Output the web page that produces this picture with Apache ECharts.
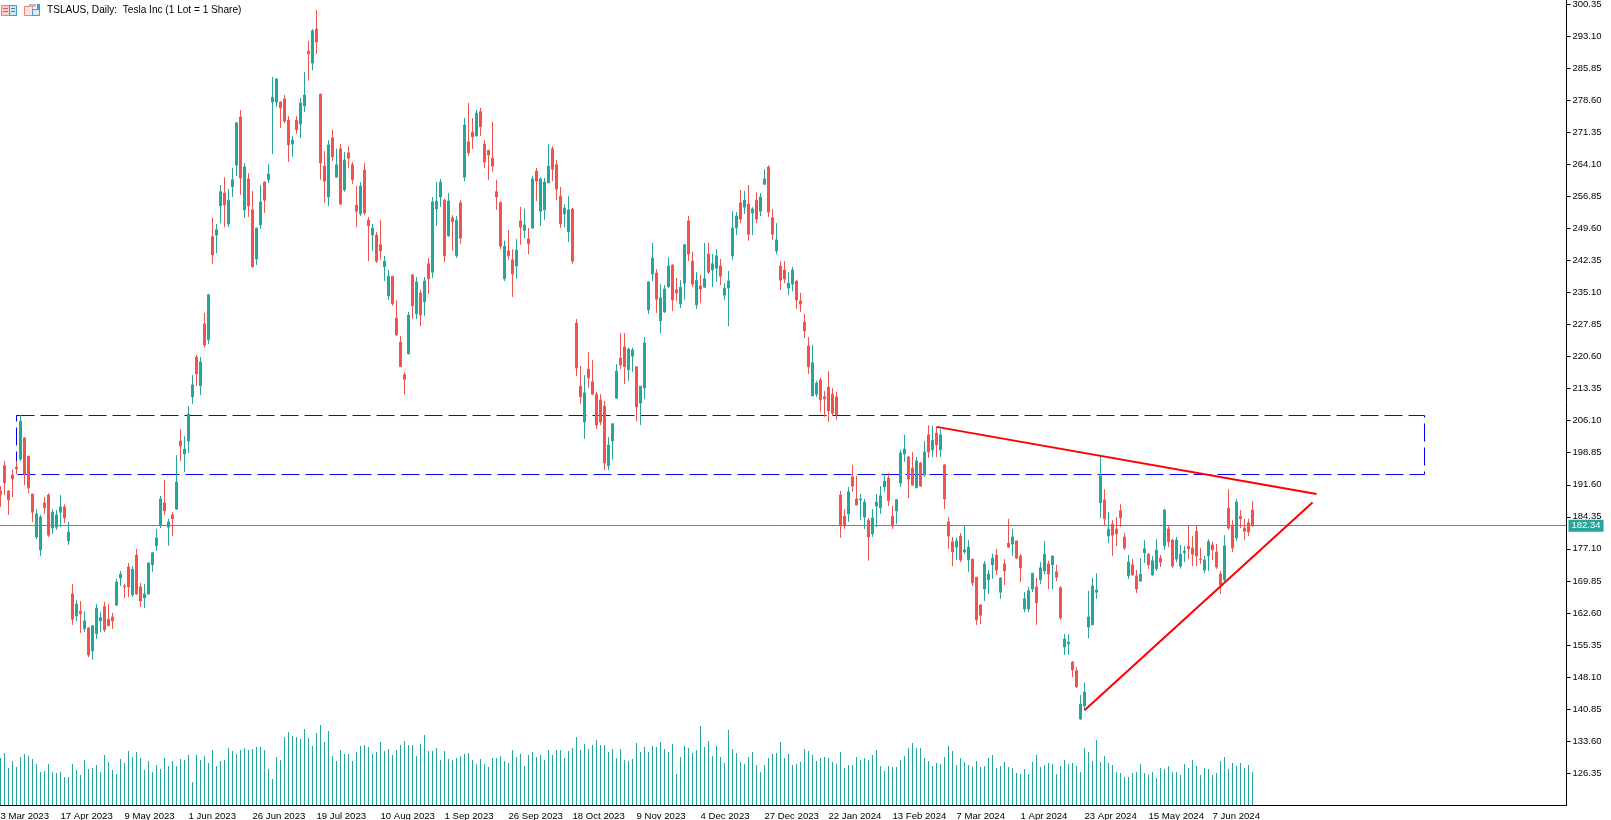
<!DOCTYPE html>
<html><head><meta charset="utf-8">
<style>html,body{margin:0;padding:0;background:#fff}#c{width:1611px;height:820px}</style>
<script src="https://cdn.jsdelivr.net/npm/echarts@6/dist/echarts.min.js"></script>
</head><body><div id="c"></div>
<script>
const opens=[
190.2,195.9,190.2,193.8,195.6,197.4,202.2,198.1,189.5,179.8,
176.9,187.5,189.3,181.8,182.0,185.4,186.6,178.9,166.9,161.9,
163.0,159.0,159.2,154.0,157.9,160.8,164.0,161.2,161.7,164.4,
170.5,168.7,173.0,166.7,175.7,168.5,166.0,166.9,173.5,177.8,
182.3,187.5,182.0,184.8,186.1,201.5,198.6,201.5,211.5,220.5,
214.0,228.0,224.4,247.7,248.1,254.7,257.6,250.6,259.0,263.9,
274.8,253.8,260.8,253.8,242.7,250.4,260.1,260.6,278.2,278.2,
278.2,278.9,274.1,268.7,274.1,273.2,277.3,289.7,287.0,294.7,
280.0,263.7,256.7,270.1,261.2,267.6,258.3,266.7,264.0,254.9,
252.9,262.8,251.5,248.1,248.1,245.9,240.9,234.3,238.8,229.3,
223.9,216.5,221.2,239.1,230.3,235.0,233.0,241.6,239.7,254.0,
256.7,256.0,247.9,252.0,243.4,255.4,261.2,269.2,271.4,270.5,
276.0,268.7,267.3,265.5,257.9,255.4,238.2,244.5,242.5,241.1,
251.3,249.2,247.2,249.7,262.6,253.5,253.8,259.9,267.6,264.0,
256.9,252.9,248.8,254.0,228.2,213.9,205.8,217.8,214.9,212.1,
210.8,209.4,195.9,201.5,211.2,220.3,222.8,217.6,220.7,218.3,
210.1,213.5,231.2,239.3,239.5,228.7,230.7,236.4,241.3,235.7,
232.5,237.2,251.3,242.2,232.3,236.6,236.3,243.8,240.2,240.6,
241.1,234.5,236.1,243.4,249.7,255.4,254.4,255.1,253.1,256.0,
253.5,259.6,263.5,252.0,244.5,241.1,240.2,236.1,237.0,237.7,
233.2,228.4,223.0,211.7,212.1,215.3,211.5,213.7,212.1,211.5,
189.3,184.5,185.0,193.4,188.4,188.2,184.3,183.6,180.5,186.8,
186.4,191.1,193.1,184.5,185.7,192.0,198.6,197.9,195.4,190.9,
196.5,193.8,202.9,199.5,203.3,199.5,196.1,183.2,178.7,177.5,
180.0,176.4,174.6,174.8,170.7,164.4,168.0,170.1,173.5,175.7,
167.3,173.7,178.4,178.2,178.9,175.5,163.5,163.5,168.0,168.5,
170.1,172.1,173.7,173.5,171.9,168.3,154.9,155.6,151.5,149.5,
138.6,141.6,159.4,159.9,167.3,187.5,188.2,180.0,182.7,181.6,
185.7,179.8,171.0,173.5,171.0,169.8,176.2,175.9,171.2,172.6,
175.0,177.8,181.6,179.1,174.8,173.2,176.2,177.7,177.3,181.1,
174.8,172.3,175.5,178.0,176.4,171.4,170.1,186.3,182.5,179.6,
184.5,181.8,183.0,185.9];
const closes=[
189.3,192.0,188.2,192.9,195.2,206.0,194.0,190.9,185.4,185.0,
184.3,186.4,180.2,185.4,184.8,186.6,184.1,180.9,161.2,164.6,
162.4,160.8,153.1,159.7,163.7,161.5,158.8,159.7,160.8,169.6,
171.4,168.5,168.5,172.5,166.9,165.3,166.9,173.9,176.2,179.6,
188.4,185.7,183.2,183.9,192.2,200.4,199.7,207.6,214.2,216.7,
219.4,223.2,234.6,243.6,249.3,257.9,254.9,256.0,260.6,273.5,
261.0,263.5,254.7,240.9,249.7,255.6,256.0,261.9,279.3,283.4,
276.9,273.9,268.5,269.6,271.9,278.0,279.8,289.1,294.3,291.8,
264.4,260.3,268.5,265.8,264.0,255.1,265.1,265.5,260.6,253.5,
259.2,253.1,250.2,249.7,242.2,244.5,242.2,238.8,232.5,225.5,
218.3,215.5,230.0,232.1,237.5,230.0,237.7,238.2,255.6,255.8,
260.1,243.4,255.8,251.1,251.5,247.4,273.0,266.7,270.3,275.7,
272.6,264.6,266.2,263.7,256.7,245.6,245.6,243.4,239.3,244.7,
249.9,250.4,246.1,260.8,260.3,260.8,260.1,263.7,263.0,258.5,
250.6,254.2,253.8,242.2,218.0,211.5,212.4,215.8,212.1,205.1,
205.8,196.5,200.6,205.4,217.3,218.7,218.3,222.3,222.1,209.2,
213.9,223.7,237.5,242.9,233.6,233.9,235.9,241.1,233.4,235.0,
236.3,245.9,243.8,237.0,237.9,235.9,238.2,239.7,241.6,243.4,
238.8,236.1,237.7,249.7,252.4,251.7,256.0,248.3,254.0,251.7,
256.7,260.8,253.3,248.3,247.0,237.9,238.2,237.2,240.2,233.4,
232.5,226.4,218.3,219.2,214.6,210.8,211.0,208.3,207.8,207.4,
182.3,182.3,190.0,191.3,187.0,188.4,187.7,179.8,184.1,187.7,
189.1,192.4,188.0,182.3,188.2,198.8,199.7,192.9,191.5,197.0,
191.3,199.0,199.0,201.7,200.6,202.9,188.4,180.0,176.4,178.9,
174.6,176.9,177.5,169.4,161.0,162.1,173.7,171.4,175.0,172.3,
170.5,172.1,177.5,179.8,175.0,172.8,165.8,167.6,171.6,164.9,
172.8,175.9,171.4,175.5,170.7,161.5,156.7,156.0,149.7,145.9,
142.0,144.7,161.7,168.7,167.8,193.6,183.9,181.6,180.2,180.5,
184.1,177.3,174.1,171.2,168.0,171.4,177.1,173.5,174.4,176.8,
174.1,185.9,178.7,173.2,179.1,175.9,176.6,177.1,175.9,175.5,
174.7,174.6,178.7,176.9,173.0,168.9,177.8,181.8,177.3,187.7,
183.9,181.1,180.9,182.34];
const lows=[
186.6,189.3,184.8,188.8,194.0,197.0,191.5,189.7,183.2,179.3,
175.5,185.0,179.8,180.5,181.4,182.0,183.0,178.0,159.9,160.8,
158.1,158.3,152.6,152.0,156.7,158.3,158.3,159.7,159.0,164.2,
168.7,166.0,166.2,166.2,166.7,164.0,163.7,166.7,171.9,176.6,
181.8,184.8,177.8,180.0,185.9,197.0,194.5,198.8,209.9,214.0,
211.9,222.6,223.5,241.6,244.0,250.8,249.9,249.9,256.7,261.5,
257.2,252.0,252.2,240.7,241.3,249.5,253.1,259.9,266.4,277.1,
272.3,273.4,264.6,265.8,271.0,270.1,275.9,283.0,285.4,289.1,
260.6,255.4,254.7,264.9,261.2,254.9,257.9,263.3,259.7,249.9,
252.4,252.6,242.2,244.5,241.8,242.5,237.7,233.4,232.1,225.3,
218.3,212.0,221.2,229.1,229.1,227.5,229.8,234.8,238.4,250.2,
254.5,242.0,247.7,244.5,242.9,246.1,260.3,266.0,267.6,270.5,
270.5,263.3,260.6,262.4,253.8,244.9,237.7,242.5,234.1,238.2,
245.9,247.4,243.8,249.5,255.8,250.2,251.5,259.9,260.3,256.0,
249.7,249.9,246.5,241.6,216.2,209.9,202.0,213.5,211.9,204.2,
205.1,194.9,194.9,197.2,211.0,217.8,214.4,215.1,217.1,206.0,
205.1,211.0,230.2,237.7,230.5,225.9,230.5,236.1,230.9,233.2,
231.6,233.4,242.2,236.3,231.4,232.7,236.1,239.3,236.3,237.5,
236.8,233.4,227.5,242.5,248.1,250.8,252.9,246.8,248.1,250.8,
252.4,259.4,252.2,247.0,243.8,235.7,237.2,234.5,235.4,231.4,
230.7,224.8,216.7,211.7,211.5,208.1,207.0,205.8,207.4,206.3,
179.6,181.6,183.2,190.0,187.0,183.6,181.6,174.4,179.8,182.0,
185.0,190.0,186.8,181.6,182.7,191.1,196.8,188.6,191.5,190.9,
191.1,193.4,197.7,197.9,197.9,197.9,186.1,177.1,173.2,174.6,
174.1,176.0,171.9,168.7,159.9,160.1,165.3,166.9,170.3,171.2,
165.8,168.9,177.3,175.5,174.8,169.6,162.8,162.8,167.3,159.9,
169.2,171.4,168.0,168.0,169.8,161.0,153.1,153.1,148.1,145.6,
138.4,140.6,156.9,159.9,165.8,184.1,182.3,178.4,175.5,177.7,
182.1,176.8,170.3,171.0,167.1,169.8,173.9,172.6,171.0,172.1,
173.0,176.9,177.5,172.8,174.1,172.6,174.1,174.8,173.2,173.2,
173.7,171.6,172.1,174.6,172.6,166.9,169.8,181.4,176.4,178.9,
181.8,179.1,180.0,182.1];
const highs=[
191.3,197.0,190.4,195.0,197.0,207.4,202.4,198.1,189.5,186.1,
184.8,188.8,189.7,186.1,185.9,189.3,187.2,183.2,169.2,165.5,
165.3,163.0,159.4,159.9,164.6,162.8,165.1,164.6,162.6,170.3,
172.1,169.2,173.9,173.2,177.1,169.4,169.2,174.1,176.4,181.6,
189.1,192.7,183.9,185.4,198.3,204.2,202.6,209.4,216.4,221.0,
220.5,230.5,234.6,252.0,250.6,259.4,261.2,258.5,263.3,273.7,
276.4,264.4,262.1,258.1,249.7,259.4,260.3,264.2,283.9,283.6,
278.4,279.8,275.0,270.5,275.0,279.1,285.0,292.0,294.7,299.0,
280.0,267.1,269.6,271.9,267.6,268.7,266.9,268.2,264.6,259.2,
260.1,264.4,252.2,250.6,248.8,251.5,243.4,240.2,238.8,233.4,
225.3,217.1,230.7,239.1,238.6,235.7,238.6,242.9,256.7,260.1,
260.8,256.3,257.6,252.6,252.4,256.0,274.6,278.0,274.6,276.4,
276.9,269.6,267.3,273.7,260.6,255.8,246.8,249.2,244.9,247.2,
254.5,254.0,249.7,261.5,263.3,261.2,261.0,268.7,268.2,265.1,
259.0,255.1,256.9,254.2,229.1,218.5,216.4,221.6,219.8,212.6,
212.1,210.6,202.4,205.4,218.9,225.9,225.9,222.6,222.6,218.3,
213.9,225.0,237.7,246.3,240.4,237.0,236.8,243.1,241.5,238.4,
237.9,246.1,252.4,244.3,239.7,239.1,246.3,246.3,243.8,244.9,
242.7,237.2,240.0,253.5,253.3,258.3,258.1,259.4,254.4,257.8,
257.6,263.0,263.9,254.0,250.8,242.2,242.2,239.7,240.9,237.9,
235.0,230.2,225.0,223.2,215.1,215.8,212.8,217.3,213.5,212.6,
190.2,186.1,191.1,196.1,193.6,189.5,188.4,184.1,186.1,189.5,
191.3,194.0,194.3,186.8,188.4,199.5,202.9,198.1,199.0,197.9,
196.8,201.5,205.1,204.9,204.7,204.2,196.3,184.3,179.8,179.6,
180.7,182.3,179.1,174.8,170.7,164.6,174.4,172.3,176.0,177.1,
170.7,174.8,183.9,181.6,178.9,176.0,167.3,168.5,171.6,170.5,
174.1,178.9,174.4,175.5,173.5,168.7,157.8,157.8,151.7,150.4,
144.0,146.8,167.6,170.5,171.6,198.3,190.6,185.4,183.6,184.3,
187.2,180.7,175.7,174.8,172.3,175.0,179.1,176.2,175.5,179.3,
175.7,186.1,182.5,179.3,179.8,178.0,177.7,182.3,180.0,182.3,
177.3,175.5,179.3,178.7,178.2,172.1,180.2,190.6,183.6,188.4,
185.9,183.9,183.9,187.9];
const volumes=[
47,52,37,44,38,48,51,49,46,41,
33,34,41,33,32,33,28,28,41,35,
30,45,36,37,40,33,50,43,35,31,
46,42,54,48,53,47,35,44,33,40,
36,47,39,44,39,46,45,50,23,50,
45,49,42,55,39,44,45,57,54,51,
55,57,55,56,58,58,55,36,26,48,
45,68,73,69,68,66,76,67,59,72,
80,63,74,49,44,55,51,51,44,53,
59,60,58,51,53,63,54,56,50,55,
60,64,60,60,49,61,70,54,54,57,
45,54,46,45,47,49,51,52,45,41,
46,41,38,47,47,49,44,42,55,48,
51,39,50,53,48,50,45,55,50,55,
55,47,54,57,68,55,61,56,60,65,
60,60,53,56,47,
56,45,44,46,62,53,58,53,59,58,
63,56,53,61,31,48,59,57,52,55,
79,58,64,49,59,48,42,75,56,52,
43,41,48,53,40,33,40,47,51,52,
63,47,51,40,41,43,56,54,50,44,
47,48,47,43,41,53,37,40,40,48,
45,47,45,50,55,39,34,39,38,38,
45,49,57,62,57,57,47,44,39,42,
41,48,59,54,40,47,43,40,38,44,
38,39,47,50,37,39,43,38,37,32,
31,36,31,43,50,38,40,42,41,31,
39,45,41,42,39,33,57,53,44,65,
43,49,42,40,33,32,28,28,32,33,
41,32,30,33,27,37,36,39,33,33,
30,41,37,45,39,30,37,36,30,32,
44,48,36,42,39,42,37,40,33];
const priceTicks=[126.35,133.60,140.85,148.10,155.35,162.60,169.85,177.10,184.35,191.60,198.85,206.10,213.35,220.60,227.85,235.10,242.35,249.60,256.85,264.10,271.35,278.60,285.85,293.10,300.35];
const dateLabels=['3 Mar 2023','17 Apr 2023','9 May 2023','1 Jun 2023','26 Jun 2023','19 Jul 2023','10 Aug 2023','1 Sep 2023','26 Sep 2023','18 Oct 2023','9 Nov 2023','4 Dec 2023','27 Dec 2023','22 Jan 2024','13 Feb 2024','7 Mar 2024','1 Apr 2024','23 Apr 2024','15 May 2024','7 Jun 2024'];
const dateIndexes=[0,15,31,47,63,79,95,111,127,143,159,175,191,207,223,239,255,271,287,303];
const lastPrice=182.34;
const zoneTop=207.27, zoneBottom=193.92;
const slotCount=392;

const UP='#26a69a',DOWN='#ef5350',FONT='"Liberation Sans",Arial,sans-serif';
const cats=new Array(slotCount).fill('');
dateIndexes.forEach((ix,k)=>{cats[ix]=dateLabels[k];});
const candle=opens.map((o,i)=>[o,closes[i],lows[i],highs[i]]);
const chart=echarts.init(document.getElementById('c'),null,{renderer:'canvas'});
const G={left:-1.5,width:1568};
chart.setOption({
 animation:false,backgroundColor:'#fff',
 grid:[{left:G.left,width:G.width,top:0,height:805,outerBoundsMode:'none'},{left:G.left,width:G.width,top:705,height:100,outerBoundsMode:'none'}],
 xAxis:[
  {type:'category',data:cats,gridIndex:0,boundaryGap:true,
   axisLine:{lineStyle:{color:'#000',width:1}},
   axisTick:{alignWithLabel:true,length:4,interval:(i,v)=>v!==''&&i!==0,lineStyle:{color:'#000'}},
   axisLabel:{interval:(i,v)=>v!=='',align:'left',color:'#000',fontFamily:FONT,fontSize:9.6,margin:6,hideOverlap:false},
   splitLine:{show:false}},
  {type:'category',data:cats,gridIndex:1,boundaryGap:true,show:false}
 ],
 yAxis:[
  {type:'value',gridIndex:0,position:'right',min:119.15,max:301.28,
   axisLine:{show:true,onZero:false,lineStyle:{color:'#000',width:1}},
   axisTick:{show:true,length:4,customValues:priceTicks,lineStyle:{color:'#000'}},
   axisLabel:{customValues:priceTicks,formatter:v=>v.toFixed(2),color:'#000',fontFamily:FONT,fontSize:9.5,margin:6,padding:[2,0,0,0]},
   splitLine:{show:false}},
  {type:'value',gridIndex:1,min:0,max:100,show:false}
 ],
 graphic:[
  {type:'rect',shape:{x:1.5,y:5.5,width:8,height:10},style:{fill:'#fbd0cc',stroke:'#ef7f78',lineWidth:1}},
  {type:'rect',shape:{x:9.5,y:5.5,width:7,height:10},style:{fill:'#cfe6f7',stroke:'#4f93cf',lineWidth:1}},
  {type:'rect',shape:{x:3,y:8,width:5,height:1},style:{fill:'#ef5350'}},
  {type:'rect',shape:{x:3,y:11,width:5,height:1},style:{fill:'#ef5350'}},
  {type:'rect',shape:{x:11,y:8,width:4,height:1},style:{fill:'#3d86c6'}},
  {type:'rect',shape:{x:11,y:11,width:4,height:1},style:{fill:'#3d86c6'}},
  {type:'rect',shape:{x:24.5,y:6.5,width:8,height:9},style:{fill:'#fde3e0',stroke:'#ef7f78',lineWidth:1}},
  {type:'rect',shape:{x:32.5,y:9.5,width:7,height:6},style:{fill:'#d6ebfa',stroke:'#4f93cf',lineWidth:1}},
  {type:'rect',shape:{x:37,y:4,width:3,height:6},style:{fill:'#4f93cf'}},
  {type:'rect',shape:{x:29,y:4,width:7,height:3},style:{fill:'#bbb'}},
  {type:'text',x:47,y:5.5,style:{text:'TSLAUS, Daily:  Tesla Inc (1 Lot = 1 Share)',fill:'#000',font:'10.1px '+FONT}}
 ],
 series:[
  {type:'candlestick',xAxisIndex:0,yAxisIndex:0,data:candle,barWidth:3,
   itemStyle:{color:UP,color0:DOWN,borderColor:UP,borderColor0:DOWN,borderWidth:1},
   markArea:{silent:true,itemStyle:{color:'rgba(0,0,0,0)',borderColor:'#0000ff',borderWidth:1,borderType:[18,6]},
    data:[[{coord:[4,zoneTop]},{coord:[356,zoneBottom]}]]},
   markLine:{silent:true,symbol:'none',animation:false,precision:2,
    data:[
     {yAxis:lastPrice,lineStyle:{color:UP,width:1,type:'solid'},
      label:{show:true,position:'end',distance:2,formatter:lastPrice.toFixed(2),color:'#fff',backgroundColor:UP,fontFamily:FONT,fontSize:9.5,padding:[1,3,1,3]}},
     [{coord:[234,204.7],lineStyle:{color:'#ff0000',width:2,type:'solid'},label:{show:false}},{coord:[329,189.5]}],
     [{coord:[271,140.6],lineStyle:{color:'#ff0000',width:2,type:'solid'},label:{show:false}},{coord:[328,187.6]}]
    ]}},
  {type:'bar',xAxisIndex:1,yAxisIndex:1,data:volumes,barWidth:1,itemStyle:{color:UP},silent:true}
 ]
});
</script></body></html>
